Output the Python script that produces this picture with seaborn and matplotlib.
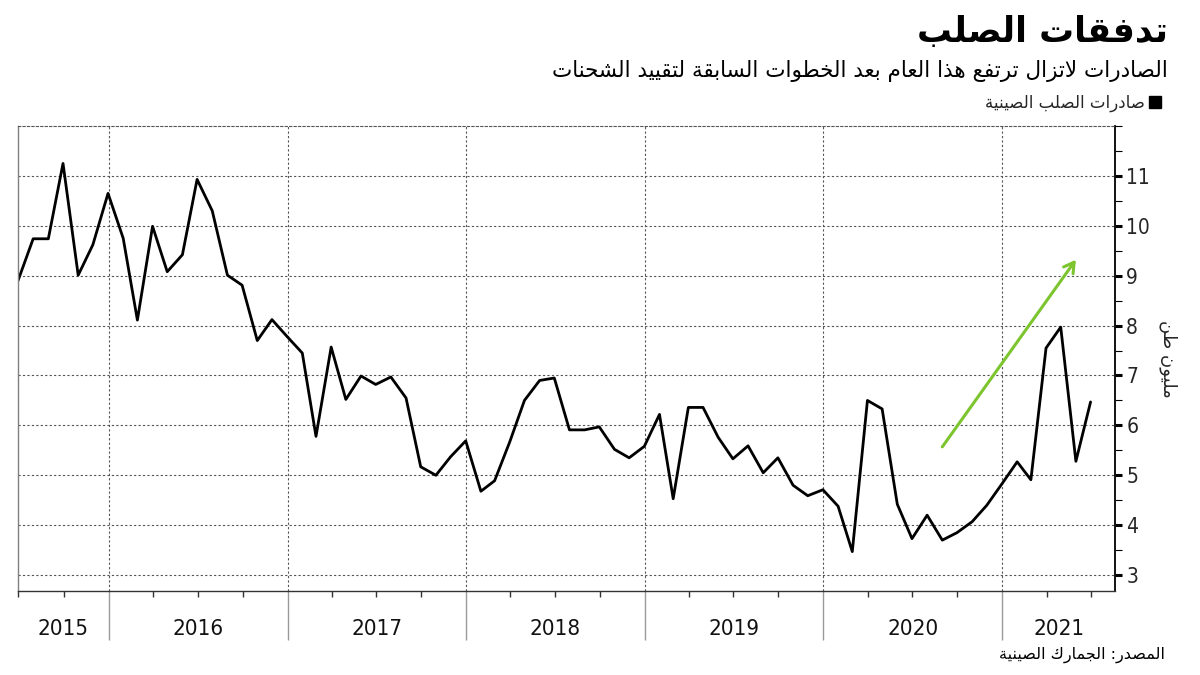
import numpy as np
import pandas as pd
import matplotlib
matplotlib.use("Agg")
import matplotlib.pyplot as plt
import matplotlib.dates as mdates
from matplotlib import font_manager
from matplotlib.lines import Line2D
import seaborn as sns

# --- Data (China steel exports, million tonnes, monthly Jun 2015 - Jun 2021) ---
START_MONTH = "2015-06-30"
EXPORTS = [
    8.90, 9.74, 9.74, 11.25, 9.01, 9.62, 10.65,
    9.75, 8.11, 9.99, 9.08, 9.42, 10.93, 10.30, 9.01, 8.81, 7.70, 8.12, 7.78,
    7.45, 5.78, 7.57, 6.52, 6.99, 6.82, 6.97, 6.55, 5.17, 5.00, 5.37, 5.69,
    4.68, 4.89, 5.67, 6.50, 6.90, 6.95, 5.91, 5.91, 5.97, 5.52, 5.35, 5.58,
    6.22, 4.53, 6.36, 6.36, 5.76, 5.33, 5.59, 5.05, 5.35, 4.80, 4.59, 4.71,
    4.38, 3.47, 6.50, 6.33, 4.42, 3.73, 4.20, 3.70, 3.85, 4.07, 4.40, 4.83,
    5.27, 4.91, 7.55, 7.97, 5.28, 6.47,
]
YEARS = [2015, 2016, 2017, 2018, 2019, 2020, 2021]
Y_TICKS = [3, 4, 5, 6, 7, 8, 9, 10, 11]

TITLE = "تدفقات الصلب"
SUBTITLE = "الصادرات لاتزال ترتفع هذا العام بعد الخطوات السابقة لتقييد الشحنات"
LEGEND = "صادرات الصلب الصينية"
Y_LABEL = "مليون طن"
SOURCE = "المصدر: الجمارك الصينية"

# trend arrow (annotation, data coords)
ARROW_FROM = ("2020-08-31", 5.57)
ARROW_TO = ("2021-05-31", 9.32)

# --- Minimal Arabic shaping (matplotlib has no bidi / joining) ---
FORMS = {
    'ا': ('\uFE8D', '\uFE8E', None, None),
    'ب': ('\uFE8F', '\uFE90', '\uFE91', '\uFE92'),
    'ة': ('\uFE93', '\uFE94', None, None),
    'ت': ('\uFE95', '\uFE96', '\uFE97', '\uFE98'),
    'ج': ('\uFE9D', '\uFE9E', '\uFE9F', '\uFEA0'),
    'ح': ('\uFEA1', '\uFEA2', '\uFEA3', '\uFEA4'),
    'خ': ('\uFEA5', '\uFEA6', '\uFEA7', '\uFEA8'),
    'د': ('\uFEA9', '\uFEAA', None, None),
    'ذ': ('\uFEAB', '\uFEAC', None, None),
    'ر': ('\uFEAD', '\uFEAE', None, None),
    'ز': ('\uFEAF', '\uFEB0', None, None),
    'س': ('\uFEB1', '\uFEB2', '\uFEB3', '\uFEB4'),
    'ش': ('\uFEB5', '\uFEB6', '\uFEB7', '\uFEB8'),
    'ص': ('\uFEB9', '\uFEBA', '\uFEBB', '\uFEBC'),
    'ط': ('\uFEC1', '\uFEC2', '\uFEC3', '\uFEC4'),
    'ع': ('\uFEC9', '\uFECA', '\uFECB', '\uFECC'),
    'ف': ('\uFED1', '\uFED2', '\uFED3', '\uFED4'),
    'ق': ('\uFED5', '\uFED6', '\uFED7', '\uFED8'),
    'ك': ('\uFED9', '\uFEDA', '\uFEDB', '\uFEDC'),
    'ل': ('\uFEDD', '\uFEDE', '\uFEDF', '\uFEE0'),
    'م': ('\uFEE1', '\uFEE2', '\uFEE3', '\uFEE4'),
    'ن': ('\uFEE5', '\uFEE6', '\uFEE7', '\uFEE8'),
    'ه': ('\uFEE9', '\uFEEA', '\uFEEB', '\uFEEC'),
    'و': ('\uFEED', '\uFEEE', None, None),
    'ي': ('\uFEF1', '\uFEF2', '\uFEF3', '\uFEF4'),
}


def joins_next(c):
    return c in FORMS and FORMS[c][2] is not None


def ar(text):
    out = []
    i = 0
    while i < len(text):
        c = text[i]
        if c not in FORMS:
            out.append(c)
            i += 1
            continue
        left = i > 0 and joins_next(text[i - 1])
        if c == 'ل' and i + 1 < len(text) and text[i + 1] == 'ا':
            out.append('\uFEFC' if left else '\uFEFB')
            i += 2
            continue
        right = joins_next(c) and i + 1 < len(text) and text[i + 1] in FORMS
        iso, fin, ini, med = FORMS[c]
        if left and right:
            out.append(med)
        elif left:
            out.append(fin)
        elif right:
            out.append(ini)
        else:
            out.append(iso)
        i += 1
    return ''.join(reversed(out))


# --- Style ---
sns.set_theme(style="white")
plt.rcParams['font.family'] = ['DejaVu Sans']
installed = {f.name for f in font_manager.fontManager.ttflist}
NUM_FONT = 'Liberation Sans Narrow' if 'Liberation Sans Narrow' in installed else 'DejaVu Sans'

dates = pd.date_range(START_MONTH, periods=len(EXPORTS), freq="ME")
df = pd.DataFrame({"date": dates, "exports": EXPORTS})

fig = plt.figure(figsize=(12, 6.75), dpi=100)
ax = fig.add_axes([0.015, 0.1244, 0.9142, 0.6889])

sns.lineplot(data=df, x="date", y="exports", color="black", linewidth=2, ax=ax)

x_left = dates[0]
x_right = dates[-1] + pd.Timedelta(days=50)
ax.set_xlim(x_left, x_right)
ax.set_ylim(2.68, 12)

# grid
grid_kw = dict(color="#555555", linestyle=(0, (2, 2)), linewidth=0.8)
ax.grid(False)
ax.yaxis.set_major_locator(plt.FixedLocator(Y_TICKS))
ax.yaxis.set_minor_locator(plt.MultipleLocator(0.5))
ax.xaxis.set_major_locator(mdates.YearLocator())
ax.xaxis.set_minor_locator(mdates.MonthLocator(bymonth=[1, 4, 7, 10]))
ax.xaxis.set_major_formatter(plt.NullFormatter())
ax.grid(True, axis="y", which="major", **grid_kw)
ax.grid(True, axis="x", which="major", **grid_kw)

# spines
ax.spines["top"].set_visible(True)
ax.spines["top"].set_color("#555555")
ax.spines["top"].set_linestyle((0, (2, 2)))
ax.spines["top"].set_linewidth(0.8)
ax.spines["left"].set_color("#808080")
ax.spines["left"].set_linewidth(1)
ax.spines["right"].set_color("black")
ax.spines["right"].set_linewidth(1.3)
ax.spines["bottom"].set_color("#333333")
ax.spines["bottom"].set_linewidth(1)

# y axis on the right
ax.yaxis.tick_right()
ax.tick_params(axis="y", which="major", direction="out", length=5, width=2.2,
               color="black", labelsize=15, pad=3, left=False, right=True)
ax.tick_params(axis="y", which="minor", direction="out", length=5, width=0.8,
               color="black", left=False, right=True)
for lbl in ax.get_yticklabels():
    lbl.set_fontfamily(NUM_FONT)
    lbl.set_fontstretch("condensed")
ax.set_ylabel(ar(Y_LABEL), rotation=270, fontsize=13, va="center")
ax.yaxis.set_label_position("right")
ax.yaxis.set_label_coords(1.057, 0.5)

# x axis: long year separators, short quarter ticks
ax.tick_params(axis="x", which="major", direction="out", length=35, width=1,
               color="#999999", bottom=True)
ax.tick_params(axis="x", which="minor", direction="out", length=4, width=1,
               color="#333333", bottom=True)

# year labels centred in the visible part of each year
lo, hi = mdates.date2num(x_left), mdates.date2num(x_right)
for yr in YEARS:
    a = max(mdates.date2num(pd.Timestamp(f"{yr}-01-01")), lo)
    b = min(mdates.date2num(pd.Timestamp(f"{yr + 1}-01-01")), hi)
    ax.text((a + b) / 2, -0.082, str(yr), transform=ax.get_xaxis_transform(),
            ha="center", va="center", fontsize=16, family=NUM_FONT,
            fontstretch="condensed", color="#111111")

ax.set_xlabel("")

# trend arrow
ax.annotate("", xy=(pd.Timestamp(ARROW_TO[0]), ARROW_TO[1]),
            xytext=(pd.Timestamp(ARROW_FROM[0]), ARROW_FROM[1]),
            arrowprops=dict(arrowstyle="->,head_length=0.6,head_width=0.35",
                            color="#7dc52e", lw=2.2, shrinkA=0, shrinkB=0))

# titles
fig.text(0.973, 0.953, ar(TITLE), ha="right", va="center", fontsize=25,
         fontweight="bold", color="black")
fig.text(0.973, 0.895, ar(SUBTITLE), ha="right", va="center", fontsize=15.5, color="black")

# legend
handle = Line2D([], [], marker="s", color="black", linestyle="none", markersize=8)
fig.legend(handles=[handle], labels=[ar(LEGEND)], loc="center right",
           bbox_to_anchor=(0.975, 0.848), frameon=False, markerfirst=False,
           fontsize=12, handletextpad=0.1, handlelength=1.0, borderaxespad=0)

# source
fig.text(0.971, 0.030, ar(SOURCE), ha="right", va="center", fontsize=11.5, color="black")

fig.savefig("out.png", dpi=100)
